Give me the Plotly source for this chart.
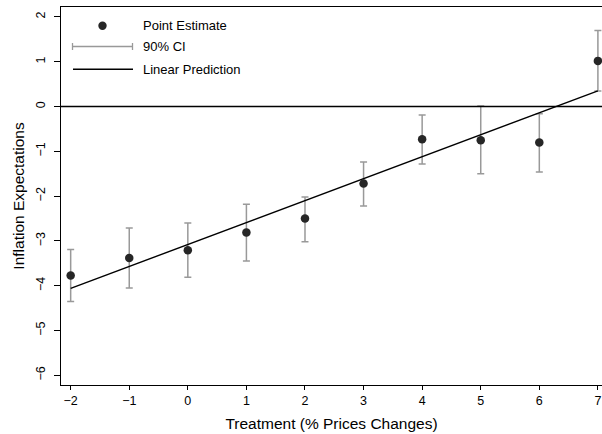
import plotly.graph_objects as go

# Treatment levels and estimated effects on inflation expectations
treatment = [-2, -1, 0, 1, 2, 3, 4, 5, 6, 7]
estimate = [-3.77, -3.38, -3.21, -2.81, -2.50, -1.72, -0.73, -0.75, -0.80, 1.02]
ci_upper = [-3.19, -2.71, -2.60, -2.18, -2.02, -1.24, -0.19, 0.01, -0.16, 1.70]
ci_lower = [-4.35, -4.05, -3.81, -3.45, -3.02, -2.22, -1.28, -1.50, -1.46, 0.35]

# Linear prediction endpoints
pred_x = [-2, 7]
pred_y = [-4.06, 0.35]

x_ticks = [-2, -1, 0, 1, 2, 3, 4, 5, 6, 7]
y_ticks = [-6, -5, -4, -3, -2, -1, 0, 1, 2]

FONT = "Liberation Sans, Arial, Helvetica, sans-serif"
GRAY = "#999999"
DOT = "#262626"

fig = go.Figure()

# 90% confidence intervals
fig.add_trace(go.Scatter(
    x=treatment, y=estimate, mode="markers",
    marker=dict(size=0.1, color="rgba(0,0,0,0)"),
    error_y=dict(type="data", symmetric=False,
                 array=[u - e for u, e in zip(ci_upper, estimate)],
                 arrayminus=[e - l for e, l in zip(estimate, ci_lower)],
                 color=GRAY, thickness=1.5, width=3.5),
    showlegend=False, hoverinfo="skip",
))

# Linear prediction
fig.add_trace(go.Scatter(
    x=pred_x, y=pred_y, mode="lines",
    line=dict(color="black", width=1.4),
    showlegend=False,
))

# Point estimates
fig.add_trace(go.Scatter(
    x=treatment, y=estimate, mode="markers",
    marker=dict(size=8.5, color=DOT),
    showlegend=False,
))

# Reference line at zero
fig.add_shape(type="line", xref="paper", yref="y", x0=0, x1=1, y0=0, y1=0,
              line=dict(color="black", width=1.4))

# Hand-drawn legend (paper coordinates)
def px_x(p):
    return (p - 61) / 541

def px_y(p):
    return (385 - p) / 378

fig.add_shape(type="circle", xref="paper", yref="paper",
              xsizemode="pixel", ysizemode="pixel",
              xanchor=px_x(102.5), yanchor=px_y(25.7),
              x0=-4.2, x1=4.2, y0=-4.2, y1=4.2,
              fillcolor=DOT, line=dict(width=0))
# CI symbol
fig.add_shape(type="line", xref="paper", yref="paper",
              x0=px_x(72.5), x1=px_x(132.5), y0=px_y(46.5), y1=px_y(46.5),
              line=dict(color=GRAY, width=1.3))
for cx in (72.5, 132.5):
    fig.add_shape(type="line", xref="paper", yref="paper",
                  x0=px_x(cx), x1=px_x(cx), y0=px_y(43), y1=px_y(50),
                  line=dict(color=GRAY, width=1.3))
# Prediction symbol
fig.add_shape(type="line", xref="paper", yref="paper",
              x0=px_x(73), x1=px_x(133), y0=px_y(69.3), y1=px_y(69.3),
              line=dict(color="black", width=1.4))

for label, py in (("Point Estimate", 25.7), ("90% CI", 46.5),
                  ("Linear Prediction", 69.3)):
    fig.add_annotation(text=label, xref="paper", yref="paper",
                       x=px_x(140.5), y=px_y(py), xanchor="left", yanchor="middle",
                       showarrow=False, font=dict(family=FONT, size=13, color="black"))

fig.update_layout(
    width=602, height=434,
    margin=dict(l=61, r=0, t=7, b=49),
    paper_bgcolor="white", plot_bgcolor="white",
    font=dict(family=FONT, color="black"),
    xaxis=dict(
        range=[-2.165, 7.07], tickmode="array", tickvals=x_ticks,
        ticktext=[str(v).replace("-", "\u2212") for v in x_ticks],
        showgrid=False, zeroline=False,
        showline=True, linecolor="black", linewidth=1.4, mirror=True,
        ticks="outside", ticklen=4, tickwidth=1, tickcolor="black",
        tickfont=dict(size=12.5, family=FONT),
        title=dict(text="Treatment (% Prices Changes)", standoff=10,
                   font=dict(size=15.5, family=FONT)),
    ),
    yaxis=dict(
        range=[-6.217, 2.223], tickmode="array", tickvals=y_ticks,
        ticktext=[str(v).replace("-", "\u2212") for v in y_ticks],
        tickangle=-90,
        showgrid=False, zeroline=False,
        showline=True, linecolor="black", linewidth=1.4, mirror=False,
        ticks="outside", ticklen=6, tickwidth=1, tickcolor="black",
        ticklabelstandoff=4,
        tickfont=dict(size=12.5, family=FONT),
        title=dict(text="Inflation Expectations", standoff=5,
                   font=dict(size=15.5, family=FONT)),
    ),
)

fig.write_html("out.html")
